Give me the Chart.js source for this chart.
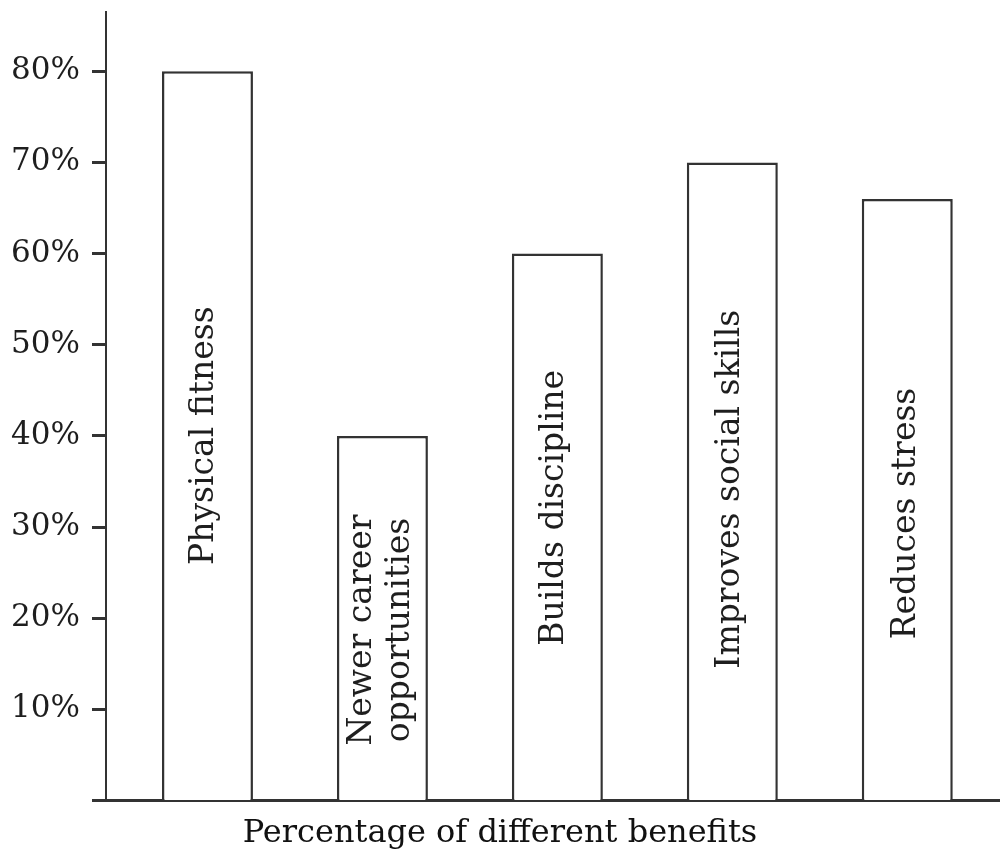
<!DOCTYPE html>
<html>
<head>
<meta charset="utf-8">
<script src="https://cdn.jsdelivr.net/npm/chart.js@4.4.1/dist/chart.umd.min.js"></script>
<style>
  html, body { margin: 0; padding: 0; background: #fff; }
  #wrap { width: 1000px; height: 853px; }
</style>
</head>
<body>
<div id="wrap"><canvas id="chart"></canvas></div>
<script>
  // benefits shown inside each bar (multi-line where the picture wraps)
  const categories = [
    "Physical fitness",
    ["Newer career", "opportunities"],
    "Builds discipline",
    "Improves social skills",
    "Reduces stress"
  ];
  const percentages = [80, 40, 60, 70, 66];
  const yTicks = [10, 20, 30, 40, 50, 60, 70, 80];
  const xTitle = "Percentage of different benefits";

  const ink = "#1e1e1e";
  const line = "#333";
  const serif = "'DejaVu Serif', serif";

  // small nudges so each rotated label sits where the original put it (px)
  const labelShift = [
    { dx: -3, dy: 0 },
    { dx: -1, dy: 12 },
    { dx: -3, dy: -19 },
    { dx: -2, dy: 8 },
    { dx: -1, dy: 14 }
  ];

  const barLabels = {
    id: "barLabels",
    afterDatasetsDraw(chart) {
      const ctx = chart.ctx;
      const meta = chart.getDatasetMeta(0);
      ctx.save();
      ctx.fillStyle = ink;
      ctx.font = "33px " + serif;
      ctx.textAlign = "center";
      ctx.textBaseline = "middle";
      meta.data.forEach((bar, i) => {
        const lines = [].concat(categories[i]);
        const shift = labelShift[i];
        const cx = bar.x + shift.dx;
        const cy = (bar.y + bar.base) / 2 + shift.dy;
        const gap = 38;
        ctx.save();
        ctx.translate(cx, cy);
        ctx.rotate(-Math.PI / 2);
        lines.forEach((t, k) => {
          const off = (k - (lines.length - 1) / 2) * gap;
          ctx.fillText(t, 0, off);
        });
        ctx.restore();
      });
      ctx.restore();
    }
  };

  new Chart(document.getElementById("chart"), {
    type: "bar",
    data: {
      datasets: [{
        data: percentages.map((v, i) => ({ x: i + 1, y: v })),
        backgroundColor: "#fff",
        borderColor: line,
        borderWidth: 2.5,
        barPercentage: 0.52,
        categoryPercentage: 1
      }]
    },
    options: {
      responsive: true,
      maintainAspectRatio: false,
      animation: false,
      layout: { padding: { top: 12, right: 0, left: 0, bottom: 0 } },
      plugins: {
        legend: { display: false },
        tooltip: { enabled: false },
        title: {
          display: true,
          position: "bottom",
          text: xTitle,
          color: "#111",
          font: { family: serif, size: 32, weight: "normal" },
          padding: { top: 14, bottom: 0 }
        }
      },
      scales: {
        x: {
          type: "linear",
          offset: false,
          min: 0.42,
          max: 5.53,
          afterBuildTicks: s => {
            s.ticks = percentages.map((_, i) => ({ value: i + 1 }));
          },
          ticks: { display: false },
          grid: { display: false, offset: false },
          border: { display: true, color: line, width: 3 },
          afterFit: s => { s.height = 0; }
        },
        y: {
          min: 0,
          max: 86.5,
          afterBuildTicks: s => {
            s.ticks = [0].concat(yTicks).map(v => ({ value: v }));
          },
          ticks: {
            color: ink,
            padding: 12,
            font: { family: serif, size: 31 },
            callback: v => (v === 0 ? "" : v + "%")
          },
          grid: {
            drawOnChartArea: false,
            drawTicks: true,
            tickLength: 14,
            tickWidth: 3,
            tickColor: line
          },
          border: { display: true, color: line, width: 2 },
          afterFit: s => {
            s.width = 106;
            s.paddingTop = 0;
            s.paddingBottom = 0;
          }
        }
      }
    },
    plugins: [barLabels]
  });
</script>
</body>
</html>
